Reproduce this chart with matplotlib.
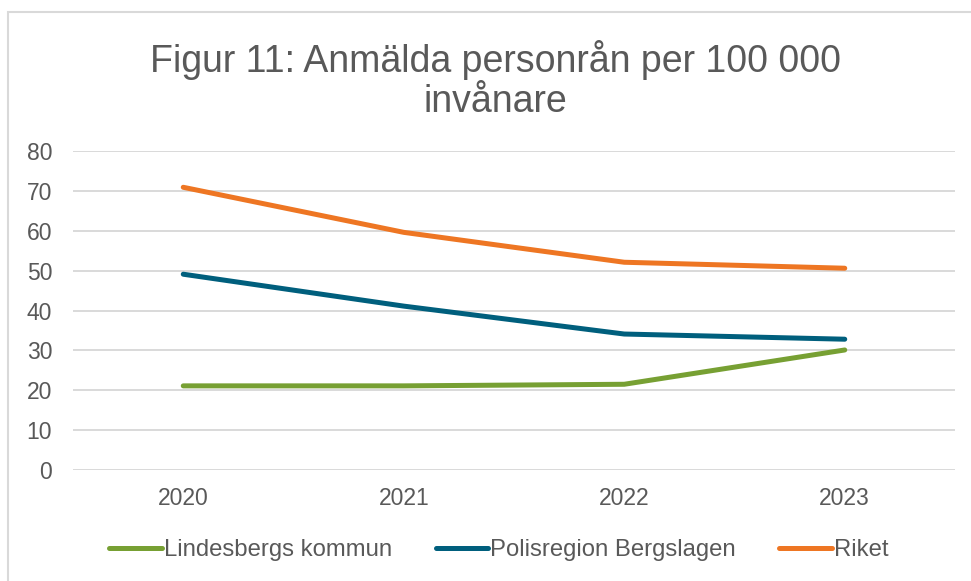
import matplotlib.pyplot as plt
from matplotlib.patches import Rectangle

plt.rcParams["font.family"] = ["Liberation Sans", "DejaVu Sans"]

# Data
years = ["2020", "2021", "2022", "2023"]
lindesberg = [21.1, 21.1, 21.5, 30.1]
bergslagen = [49.1, 41.1, 34.1, 32.8]
riket = [70.9, 59.6, 52.1, 50.6]

series_names = ["Lindesbergs kommun", "Polisregion Bergslagen", "Riket"]
colors = ["#77A033", "#005F7D", "#EE7623"]

fig = plt.figure(figsize=(9.71, 5.81), dpi=100)
ax = fig.add_axes([73 / 971, 1 - 470 / 581, (955 - 73) / 971, (470 - 151) / 581])

x = range(len(years))
for vals, name, c in zip([lindesberg, bergslagen, riket], series_names, colors):
    ax.plot(x, vals, color=c, linewidth=3.6, solid_capstyle="round", label=name)

ax.set_xlim(-0.5, len(years) - 0.5)
ax.set_ylim(0, 80)
ax.set_yticks(range(0, 81, 10))
ax.set_xticks(list(x))
ax.set_xticklabels(years)
ax.grid(axis="y", color="#d9d9d9", linewidth=1.4)
ax.set_axisbelow(True)
for s in ax.spines.values():
    s.set_visible(False)
ax.tick_params(length=0, labelsize=16.5, labelcolor="#595959")
ax.tick_params(axis="x", pad=12)
ax.tick_params(axis="y", pad=15)

fig.text(495 / 971, 1 - 80 / 581, "Figur 11: Anmälda personrån per 100 000\ninvånare",
         ha="center", va="center", fontsize=27, color="#595959", linespacing=1.15)

leg = fig.legend(loc="center", bbox_to_anchor=(499 / 971, 1 - 550 / 581), ncol=3,
                 frameon=False, fontsize=17.2, handlelength=2.2, handletextpad=0.1,
                 columnspacing=1.8)
for t in leg.get_texts():
    t.set_color("#595959")

# light frame around chart area
fig.patches.append(Rectangle((8 / 971, -0.1), 1.2, 1 - 12 / 581 + 0.1,
                             transform=fig.transFigure, fill=False,
                             edgecolor="#d9d9d9", linewidth=1.5))

fig.savefig("out.png", dpi=100)
